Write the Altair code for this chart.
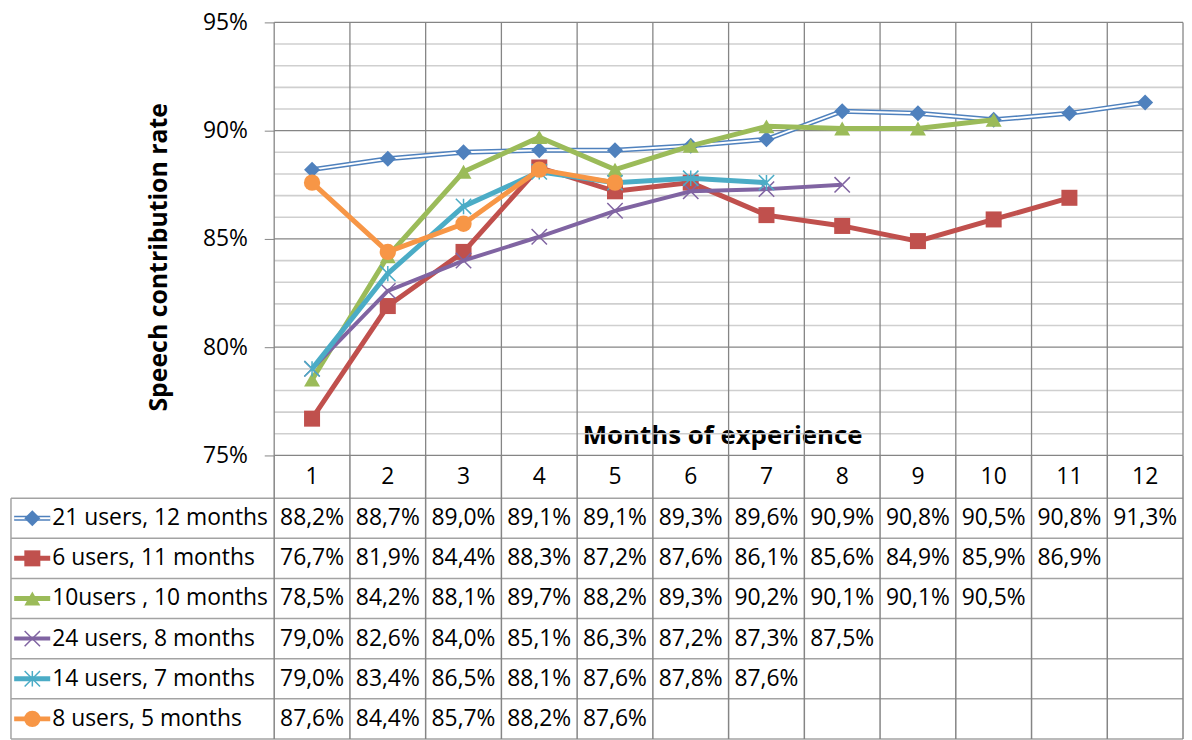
import altair as alt
import pandas as pd

# ---------------- data ----------------
months = list(range(1, 13))
series_names = [
    "21 users, 12 months",
    "6 users, 11 months",
    "10users , 10 months",
    "24 users, 8 months",
    "14 users, 7 months",
    "8 users, 5 months",
]
s1 = [88.2, 88.7, 89.0, 89.1, 89.1, 89.3, 89.6, 90.9, 90.8, 90.5, 90.8, 91.3]
s2 = [76.7, 81.9, 84.4, 88.3, 87.2, 87.6, 86.1, 85.6, 84.9, 85.9, 86.9]
s3 = [78.5, 84.2, 88.1, 89.7, 88.2, 89.3, 90.2, 90.1, 90.1, 90.5]
s4 = [79.0, 82.6, 84.0, 85.1, 86.3, 87.2, 87.3, 87.5]
s5 = [79.0, 83.4, 86.5, 88.1, 87.6, 87.8, 87.6]
s6 = [87.6, 84.4, 85.7, 88.2, 87.6]
series_values = [s1, s2, s3, s4, s5, s6]
y_ticks = [75, 80, 85, 90, 95]
y_minor = [76, 77, 78, 79, 81, 82, 83, 84, 86, 87, 88, 89, 91, 92, 93, 94]

# ---------------- styles ----------------
colors = ["#4F81BD", "#C0504D", "#9BBB59", "#8064A2", "#4BACC6", "#F79646"]
line_w = [5, 5, 5, 4.0, 5, 5]
X_PATH = "M-1,-1L1,1M-1,1L1,-1"
STAR_PATH = "M-1,-1L1,1M-1,1L1,-1M0,-1L0,1"
markers = [
    dict(shape="diamond", filled=True, size=260),
    dict(shape="square", filled=True, size=260),
    dict(shape="triangle-up", filled=True, size=260),
    dict(shape=X_PATH, filled=False, size=240, strokeWidth=1.5),
    dict(shape=STAR_PATH, filled=False, size=240, strokeWidth=1.5),
    dict(shape="circle", filled=True, size=270),
]
FONT = "Open Sans"
TABLE_FS = 23
GRID_DARK = "#858585"
GRID_LIGHT = "#cfcfcf"
TABLE_H = "#a3a3a3"

# ---------------- layout ----------------
W = 1180
PLOT_LEFT_PX = 265.0          # from table left edge to first column boundary
LO = 0.5 - PLOT_LEFT_PX * (12.5 - 0.5) / (W - PLOT_LEFT_PX)
UNIT = W / (12.5 - LO)
TOP_H = 436
ROW_H = 40.4
HEAD_H = 43.0
HEAD_U = HEAD_H / ROW_H
TABLE_H_PX = HEAD_H + 6 * ROW_H


def px2x(p):
    return LO + p / UNIT


xscale = alt.Scale(domain=[LO, 12.5], nice=False, zero=False)
yscale = alt.Scale(domain=[75, 95], nice=False, zero=False)
tscale = alt.Scale(domain=[-HEAD_U, 6], nice=False, zero=False, reverse=True)

xaxis = alt.Axis(
    orient="bottom", labels=False, ticks=False, domain=False, grid=False,
    title="Months of experience", titleFont=FONT, titleFontSize=26,
    titleFontWeight="bold", titleColor="black", titleX=716, titleY=-20,
    titleBaseline="middle", titleAlign="center", titleAnchor="start",
)
yaxis = alt.Axis(
    values=y_ticks, labelExpr="datum.value + '%'", offset=-PLOT_LEFT_PX,
    tickSize=10, tickColor=GRID_DARK, labelPadding=17, labelFont=FONT,
    labelFontSize=23, labelColor="black", domain=False, grid=False,
    title="Speech contribution rate", titleFont=FONT, titleFontSize=25,
    titleFontWeight="bold", titleColor="black", titleX=-116.5, titleY=236,
    titleBaseline="middle", titleAlign="center", titleAngle=-90,
)


def X(f):
    return alt.X(f, type="quantitative", scale=xscale, axis=xaxis)


def Y(f):
    return alt.Y(f, type="quantitative", scale=yscale, axis=yaxis)


def TX(f):
    return alt.X(f, type="quantitative", scale=xscale, axis=None)


def TY(f):
    return alt.Y(f, type="quantitative", scale=tscale, axis=None)


# ---------------- top chart ----------------
bounds = [b + 0.5 for b in range(0, 13)]
minor_df = pd.DataFrame({"y": y_minor, "x": 0.5, "x2": 12.5})
major_df = pd.DataFrame({"y": y_ticks, "x": 0.5, "x2": 12.5})
vert_df = pd.DataFrame({"x": bounds, "y": 75, "y2": 95})

layers = [
    alt.Chart(minor_df).mark_rule(color=GRID_LIGHT, strokeWidth=1.6).encode(
        x=X("x"), x2="x2", y=Y("y")),
    alt.Chart(major_df).mark_rule(color=GRID_DARK, strokeWidth=1.2).encode(
        x=X("x"), x2="x2", y=Y("y")),
    alt.Chart(vert_df).mark_rule(color=GRID_DARK, strokeWidth=1.3).encode(
        x=X("x"), y=Y("y"), y2="y2"),
]

for i, (name, vals) in enumerate(zip(series_names, series_values)):
    df = pd.DataFrame({"x": months[: len(vals)], "y": vals})
    layers.append(alt.Chart(df).mark_line(color=colors[i], strokeWidth=line_w[i]).encode(
        x=X("x"), y=Y("y")))
    if i == 0:
        layers.append(alt.Chart(df).mark_line(color="white", strokeWidth=2).encode(
            x=X("x"), y=Y("y")))
    m = markers[i]
    layers.append(alt.Chart(df).mark_point(
        shape=m["shape"], filled=m["filled"], size=m["size"], color=colors[i],
        opacity=1, strokeWidth=m.get("strokeWidth", 1)).encode(x=X("x"), y=Y("y")))

top = alt.layer(*layers).properties(width=W, height=TOP_H)

# ---------------- table chart ----------------
rows_h = pd.DataFrame({"y": list(range(0, 7)), "x": LO, "x2": 12.5})
cols_v = pd.DataFrame({"x": bounds, "y": -HEAD_U, "y2": 6})
left_v = pd.DataFrame({"x": [LO], "y": [0], "y2": [6]})
head_df = pd.DataFrame({"x": months, "y": -HEAD_U / 2, "t": [str(m) for m in months]})

cells = []
for r, vals in enumerate(series_values):
    for m, v in zip(months, vals):
        cells.append({"x": m, "y": r + 0.5, "t": f"{v:.1f}%".replace(".", ",")})
cells_df = pd.DataFrame(cells)

leg_df = pd.DataFrame({
    "name": series_names,
    "y": [r + 0.5 for r in range(6)],
    "tx": px2x(41.5),
    "k1": px2x(3.2),
    "k2": px2x(39.5),
    "kc": px2x(21.5),
})

tlayers = [
    alt.Chart(rows_h).mark_rule(color=TABLE_H, strokeWidth=1.5).encode(
        x=TX("x"), x2="x2", y=TY("y")),
    alt.Chart(cols_v).mark_rule(color=GRID_DARK, strokeWidth=1.5).encode(
        x=TX("x"), y=TY("y"), y2="y2"),
    alt.Chart(left_v).mark_rule(color=TABLE_H, strokeWidth=1.5).encode(
        x=TX("x"), y=TY("y"), y2="y2"),
    alt.Chart(head_df).mark_text(font=FONT, fontSize=TABLE_FS, color="black", baseline="middle").encode(
        x=TX("x"), y=TY("y"), text="t:N"),
    alt.Chart(cells_df).mark_text(font=FONT, fontSize=TABLE_FS, color="black", baseline="middle").encode(
        x=TX("x"), y=TY("y"), text="t:N"),
    alt.Chart(leg_df).mark_text(font=FONT, fontSize=TABLE_FS, color="black", baseline="middle",
                                align="left").encode(x=TX("tx"), y=TY("y"), text="name:N"),
]
for i in range(6):
    kd = leg_df.iloc[[i]]
    tlayers.append(alt.Chart(kd).mark_rule(color=colors[i], strokeWidth=line_w[i]).encode(
        x=TX("k1"), x2="k2", y=TY("y")))
    if i == 0:
        tlayers.append(alt.Chart(kd).mark_rule(color="white", strokeWidth=2).encode(
            x=TX("k1"), x2="k2", y=TY("y")))
    m = markers[i]
    tlayers.append(alt.Chart(kd).mark_point(
        shape=m["shape"], filled=m["filled"], size=m["size"], color=colors[i],
        opacity=1, strokeWidth=m.get("strokeWidth", 1)).encode(x=TX("kc"), y=TY("y")))

table = alt.layer(*tlayers).properties(width=W, height=TABLE_H_PX)

chart = alt.vconcat(top, table, spacing=0, bounds="flush").properties(
    padding={"left": 2, "top": 1, "right": 0, "bottom": 0},
    background="white",
).configure_view(stroke=None)

chart.save("out.html", embed_options={"renderer": "svg", "actions": False})
